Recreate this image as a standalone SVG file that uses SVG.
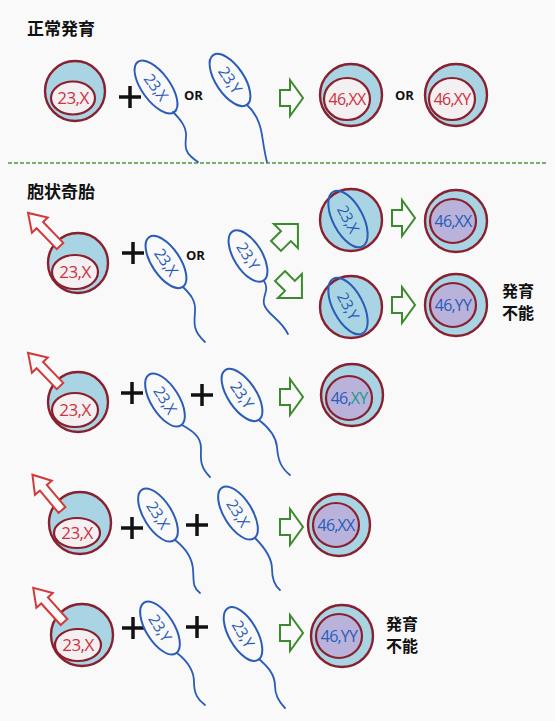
<svg xmlns="http://www.w3.org/2000/svg" xmlns:xlink="http://www.w3.org/1999/xlink" width="555" height="721" viewBox="0 0 555 721">
  <style>
    .cell { fill: #a9d4e4; stroke: #8a1f2e; stroke-width: 2.4; }
    .nuc { fill: #f4eff1; stroke: #8a1f2e; stroke-width: 2.2; }
    .nucp { fill: #b9b3dc; stroke: #8a1f2e; stroke-width: 2.2; }
    .eggtxt { font-family: "Open Sans", "Liberation Sans", sans-serif; font-size: 17px; letter-spacing: -0.5px; fill: #cc3340; text-anchor: middle; }
    .zytxt { font-family: "Open Sans", "Liberation Sans", sans-serif; font-size: 16px; letter-spacing: -0.8px; text-anchor: middle; }
    .red { fill: #cc3340; }
    .blue { fill: #2a5cb8; }
    .teal { fill: #1a9c86; }
    .head { fill: none; stroke: #2a5cb8; stroke-width: 2; }
    .sptxt { font-family: "Open Sans", "Liberation Sans", sans-serif; font-size: 15.5px; letter-spacing: -0.5px; fill: #2a5cb8; text-anchor: middle; }
    .tail { fill: none; stroke: #2a5cb8; stroke-width: 1.8; stroke-linecap: round; }
    .plus { stroke: #111; stroke-width: 3.5; }
    .or { font-family: "Open Sans", "Liberation Sans", sans-serif; font-size: 13px; font-weight: bold; fill: #111; }
    .title { font-family: "Noto Sans CJK JP", sans-serif; font-size: 17px; font-weight: bold; fill: #111; }
    .note { font-family: "Noto Sans CJK JP", sans-serif; font-size: 16px; font-weight: bold; fill: #111; }
    .garrow { fill: #fafafa; stroke: #3b8a2e; stroke-width: 2; stroke-linejoin: miter; }
    .rarrow { fill: #fafafa; stroke: #d23a3a; stroke-width: 2; stroke-linejoin: miter; }
  </style>
  <defs>
    <!-- hollow arrows pointing along +x, tail at origin -->
    <path id="garr" d="M0,-8 L10,-8 L10,-18 L23,0 L10,18 L10,8 L0,8 Z"/>
    <path id="garrd" d="M0,-7 L14,-7 L14,-17 L31,0 L14,17 L14,7 L0,7 Z"/>
    <path id="rarr" d="M0,-4.5 L29,-4.5 L29,-11 L46,0 L29,11 L29,4.5 L0,4.5 Z"/>
    <path id="tailpath" d="M17,25 C24,32 30,38 29,50 C28,62 27,69 39,80"/>
  </defs>

  <rect width="555" height="721" fill="#f9f9f9"/>

  <!-- section titles and divider -->
  <text class="title" x="27" y="35">正常発育</text>
  <line x1="8" y1="163" x2="548" y2="163" stroke="#4a9a3a" stroke-width="1.3" stroke-dasharray="4 2"/>
  <text class="title" x="27" y="198">胞状奇胎</text>

  <!-- ===== normal development ===== -->
  <g id="n-egg" transform="translate(75,91)">
    <circle class="cell" r="30"/>
    <ellipse class="nuc" cx="-2" cy="7" rx="22" ry="16.5"/>
    <text class="eggtxt" x="-2" y="13">23,X</text>
  </g>
  <g id="n-plus" transform="translate(130,97)">
    <line class="plus" x1="-11" y1="0" x2="11" y2="0"/><line class="plus" x1="0" y1="-11" x2="0" y2="11"/>
  </g>
  <g id="n-sperm-x" transform="translate(156,87)">
    <ellipse class="head" rx="31" ry="14" transform="rotate(54)"/>
    <text class="sptxt" transform="rotate(54) translate(0,5.5)">23,X</text>
    <path class="tail" d="M17,25 C24,32 31,40 30,50 C29,60 28,66 42,75"/>
  </g>
  <text class="or" x="184" y="100">OR</text>
  <g id="n-sperm-y" transform="translate(230,80)">
    <ellipse class="head" rx="30" ry="14" transform="rotate(56)"/>
    <text class="sptxt" transform="rotate(56) translate(0,5.5)">23,Y</text>
    <path class="tail" d="M17,25 C25,32 30,42 32,55 C34,68 35,75 37,82"/>
  </g>
  <g id="n-arrow" transform="translate(280,98)">
    <use href="#garr" class="garrow"/>
  </g>
  <g id="n-zyg-xx" transform="translate(351,95)">
    <circle class="cell" r="31"/>
    <ellipse class="nuc" cx="-4" cy="4" rx="23" ry="21"/>
    <text class="zytxt red" x="-4" y="10">46,XX</text>
  </g>
  <text class="or" x="395" y="100">OR</text>
  <g id="n-zyg-xy" transform="translate(456,95)">
    <circle class="cell" r="31"/>
    <ellipse class="nuc" cx="-4" cy="4" rx="23" ry="21"/>
    <text class="zytxt red" x="-4" y="10">46,XY</text>
  </g>

  <!-- ===== complete mole, row 1 ===== -->
  <g id="m1-egg" transform="translate(78,263)">
    <circle class="cell" r="30"/>
    <use href="#rarr" class="rarrow" transform="translate(-18,-17) rotate(-134)"/>
    <ellipse class="nuc" cx="-3" cy="9" rx="23" ry="17"/>
    <text class="eggtxt" x="-3" y="15">23,X</text>
  </g>
  <g id="m1-plus" transform="translate(133,253)">
    <line class="plus" x1="-11" y1="0" x2="11" y2="0"/><line class="plus" x1="0" y1="-11" x2="0" y2="11"/>
  </g>
  <g id="m1-sperm-x" transform="translate(166,262)">
    <ellipse class="head" rx="30" ry="14" transform="rotate(56)"/>
    <text class="sptxt" transform="rotate(56) translate(0,5.5)">23,X</text>
    <use href="#tailpath" class="tail"/>
  </g>
  <text class="or" x="186" y="260">OR</text>
  <g id="m1-sperm-y" transform="translate(248,256)">
    <ellipse class="head" rx="29" ry="14" transform="rotate(58)"/>
    <text class="sptxt" transform="rotate(58) translate(0,5.5)">23,Y</text>
    <path class="tail" d="M16,25 C22,34 14,40 16,48 C18,58 32,62 40,78"/>
  </g>
  <g id="m1-arrow-up" transform="translate(276,246) rotate(-45)">
    <use href="#garrd" class="garrow"/>
  </g>
  <g id="m1-arrow-down" transform="translate(280,276) rotate(45)">
    <use href="#garrd" class="garrow"/>
  </g>
  <g id="m1-cell-x" transform="translate(351,220)">
    <circle class="cell" r="31"/>
    <ellipse class="head" cx="0" cy="0" rx="31" ry="15" transform="translate(-3,-1) rotate(62)"/>
    <text class="sptxt" font-size="16" transform="translate(-3,-1) rotate(62) translate(0,5.5)">23,X</text>
  </g>
  <g id="m1-arrow-a" transform="translate(392,218)">
    <use href="#garr" class="garrow"/>
  </g>
  <g id="m1-zyg-xx" transform="translate(456,221)">
    <circle class="cell" r="31"/>
    <ellipse class="nucp" cx="-3" cy="0" rx="23" ry="22"/>
    <text class="zytxt blue" x="-3" y="6">46,XX</text>
  </g>
  <g id="m1-cell-y" transform="translate(351,307)">
    <circle class="cell" r="31"/>
    <ellipse class="head" cx="0" cy="0" rx="31" ry="15" transform="translate(-3,-1) rotate(62)"/>
    <text class="sptxt" font-size="16" transform="translate(-3,-1) rotate(62) translate(0,5.5)">23,Y</text>
  </g>
  <g id="m1-arrow-b" transform="translate(392,305)">
    <use href="#garr" class="garrow"/>
  </g>
  <g id="m1-zyg-yy" transform="translate(456,305)">
    <circle class="cell" r="31"/>
    <ellipse class="nucp" cx="-3" cy="0" rx="23" ry="22"/>
    <text class="zytxt blue" x="-3" y="6">46,YY</text>
  </g>
  <g id="m1-note">
    <text class="note" x="502" y="297">発育</text>
    <text class="note" x="502" y="319">不能</text>
  </g>

  <!-- ===== complete mole, row 2 ===== -->
  <g id="m2-egg" transform="translate(78,402)">
    <circle class="cell" r="30"/>
    <use href="#rarr" class="rarrow" transform="translate(-18,-16) rotate(-134)"/>
    <ellipse class="nuc" cx="-3" cy="8" rx="23" ry="17"/>
    <text class="eggtxt" x="-3" y="14">23,X</text>
  </g>
  <g id="m2-plus-a" transform="translate(132,393)">
    <line class="plus" x1="-11" y1="0" x2="11" y2="0"/><line class="plus" x1="0" y1="-11" x2="0" y2="11"/>
  </g>
  <g id="m2-sperm-x" transform="translate(165,400)">
    <ellipse class="head" rx="30" ry="14" transform="rotate(58)"/>
    <text class="sptxt" transform="rotate(58) translate(0,5.5)">23,X</text>
    <path class="tail" d="M17,25 C26,30 36,36 36,48 C36,58 34,66 45,77"/>
  </g>
  <g id="m2-plus-b" transform="translate(202,395)">
    <line class="plus" x1="-11" y1="0" x2="11" y2="0"/><line class="plus" x1="0" y1="-11" x2="0" y2="11"/>
  </g>
  <g id="m2-sperm-y" transform="translate(242,395)">
    <ellipse class="head" rx="30" ry="14" transform="rotate(56)"/>
    <text class="sptxt" transform="rotate(56) translate(0,5.5)">23,Y</text>
    <path class="tail" d="M17,25 C26,32 34,40 35,52 C36,64 38,72 48,80"/>
  </g>
  <g id="m2-arrow" transform="translate(280,397)">
    <use href="#garr" class="garrow"/>
  </g>
  <g id="m2-zyg-xy" transform="translate(352,395)">
    <circle class="cell" r="31"/>
    <ellipse class="nucp" cx="-3" cy="3" rx="23" ry="22"/>
    <text class="zytxt" x="-3" y="9"><tspan class="blue">46,</tspan><tspan class="teal">XY</tspan></text>
  </g>

  <!-- ===== complete mole, row 3 ===== -->
  <g id="m3-egg" transform="translate(80,523)">
    <circle class="cell" r="31"/>
    <use href="#rarr" class="rarrow" transform="translate(-18,-13) rotate(-130)"/>
    <ellipse class="nuc" cx="-3" cy="10" rx="23" ry="15"/>
    <text class="eggtxt" x="-3" y="16">23,X</text>
  </g>
  <g id="m3-plus-a" transform="translate(132,528)">
    <line class="plus" x1="-11" y1="0" x2="11" y2="0"/><line class="plus" x1="0" y1="-11" x2="0" y2="11"/>
  </g>
  <g id="m3-sperm-x1" transform="translate(158,515)">
    <ellipse class="head" rx="30" ry="14" transform="rotate(58)"/>
    <text class="sptxt" transform="rotate(58) translate(0,5.5)">23,X</text>
    <path class="tail" d="M17,25 C26,32 34,42 35,54 C36,66 34,72 42,78"/>
  </g>
  <g id="m3-plus-b" transform="translate(197,525)">
    <line class="plus" x1="-11" y1="0" x2="11" y2="0"/><line class="plus" x1="0" y1="-11" x2="0" y2="11"/>
  </g>
  <g id="m3-sperm-x2" transform="translate(238,513)">
    <ellipse class="head" rx="30" ry="14" transform="rotate(58)"/>
    <text class="sptxt" transform="rotate(58) translate(0,5.5)">23,X</text>
    <path class="tail" d="M17,25 C26,34 34,44 34,56 C34,66 36,72 42,77"/>
  </g>
  <g id="m3-arrow" transform="translate(280,527)">
    <use href="#garr" class="garrow"/>
  </g>
  <g id="m3-zyg-xx" transform="translate(339,525)">
    <circle class="cell" r="31"/>
    <ellipse class="nucp" cx="-3" cy="0" rx="23" ry="22"/>
    <text class="zytxt blue" x="-3" y="6">46,XX</text>
  </g>

  <!-- ===== complete mole, row 4 ===== -->
  <g id="m4-egg" transform="translate(82,635)">
    <circle class="cell" r="31"/>
    <use href="#rarr" class="rarrow" transform="translate(-18,-13) rotate(-132)"/>
    <ellipse class="nuc" cx="-4" cy="10" rx="23" ry="16"/>
    <text class="eggtxt" x="-4" y="16">23,X</text>
  </g>
  <g id="m4-plus-a" transform="translate(133,628)">
    <line class="plus" x1="-11" y1="0" x2="11" y2="0"/><line class="plus" x1="0" y1="-11" x2="0" y2="11"/>
  </g>
  <g id="m4-sperm-y1" transform="translate(160,628)">
    <ellipse class="head" rx="30" ry="14" transform="rotate(58)"/>
    <text class="sptxt" transform="rotate(58) translate(0,5.5)">23,Y</text>
    <path class="tail" d="M17,25 C26,32 34,42 34,54 C34,66 38,72 45,77"/>
  </g>
  <g id="m4-plus-b" transform="translate(197,627)">
    <line class="plus" x1="-11" y1="0" x2="11" y2="0"/><line class="plus" x1="0" y1="-11" x2="0" y2="11"/>
  </g>
  <g id="m4-sperm-y2" transform="translate(243,634)">
    <ellipse class="head" rx="30" ry="14" transform="rotate(60)"/>
    <text class="sptxt" transform="rotate(60) translate(0,5.5)">23,Y</text>
    <path class="tail" d="M16,25 C24,32 32,40 32,52 C32,62 36,68 42,74"/>
  </g>
  <g id="m4-arrow" transform="translate(280,633)">
    <use href="#garr" class="garrow"/>
  </g>
  <g id="m4-zyg-yy" transform="translate(342,636)">
    <circle class="cell" r="31"/>
    <ellipse class="nucp" cx="-3" cy="0" rx="23" ry="22"/>
    <text class="zytxt blue" x="-3" y="6">46,YY</text>
  </g>
  <g id="m4-note">
    <text class="note" x="386" y="630">発育</text>
    <text class="note" x="386" y="652">不能</text>
  </g>
</svg>
